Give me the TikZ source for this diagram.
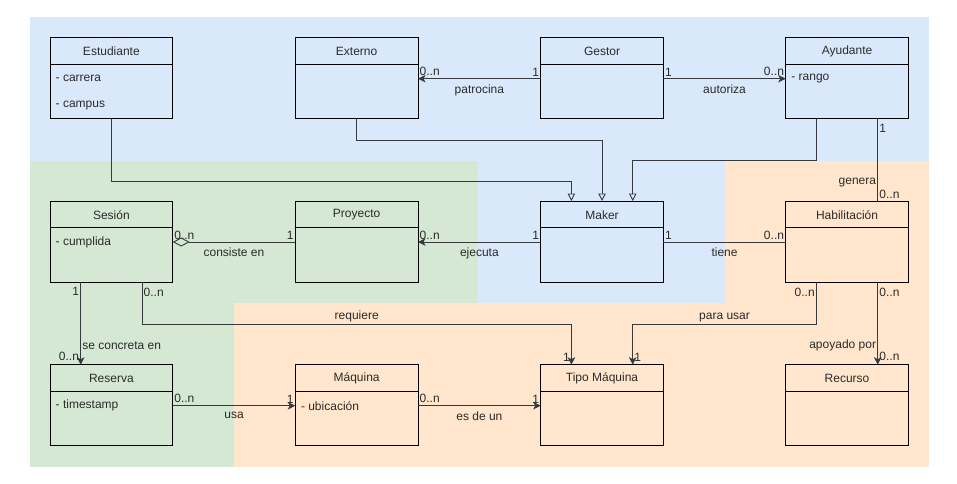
\documentclass[tikz,border=0pt]{standalone}
\usepackage{fontspec}
\setmainfont{Liberation Sans}
\usetikzlibrary{calc,arrows.meta}
\definecolor{bgblue}{HTML}{DAE8FC}
\definecolor{bggreen}{HTML}{D5E8D4}
\definecolor{bgorange}{HTML}{FFE6CC}
\definecolor{ink}{HTML}{2B2B2B}
\definecolor{edge}{HTML}{36393D}
\newcommand\umlclass[4]{%
  \node[cls] (#1) at (#2,#3) {};
  \node[ttl] (#1-t) at ($(#1.north)+(0,14)$) {#4};
  \draw[sepline] ($(#1.north west)+(0,26.7)$) -- ($(#1.north east)+(0,26.7)$);
  \coordinate (#1-a) at ($(#1.north west)+(0,41)$);
  \coordinate (#1-b) at ($(#1.north east)+(0,41)$);
  \coordinate (#1-sa) at ($(#1.south west)!0.25!(#1.south east)$);
  \coordinate (#1-sb) at ($(#1.south west)!0.75!(#1.south east)$);
  \coordinate (#1-na) at ($(#1.north west)!0.25!(#1.north east)$);
  \coordinate (#1-nb) at ($(#1.north west)!0.75!(#1.north east)$);
}
\begin{document}
\begin{tikzpicture}[x=1pt,y=-1pt,
  every node/.style={font=\fontsize{12}{14}\selectfont, text=ink, inner sep=1.5pt},
  cls/.style={draw=black, line width=0.9pt, minimum width=122.7pt, minimum height=81pt,
              inner sep=0pt, outer sep=0pt, anchor=north west},
  ttl/.style={anchor=center},
  attr/.style={anchor=west},
  sepline/.style={draw=black, line width=0.9pt},
  assoc/.style={draw=edge, line width=0.9pt, -{Stealth[length=7.5pt,width=7.5pt,inset=2pt]}},
  plain/.style={draw=edge, line width=0.9pt},
  inh/.style={draw=edge, line width=0.9pt, -{Triangle[open,length=7.5pt,width=7.5pt]}},
  agg/.style={draw=edge, line width=0.9pt, -{Diamond[open,length=17pt,width=9pt]}},
  lbl/.style={inner sep=1.5pt}
]
\useasboundingbox (0,0) rectangle (957,483);
% backgrounds
\fill[bgblue] (30,17) rectangle (929,160.7);
\fill[bgblue] (478,160.7) rectangle (724.7,303.3);
\fill[bggreen] (30,160.7) rectangle (478,303.3);
\fill[bggreen] (30,303.3) rectangle (234,466.7);
\fill[bgorange] (724.7,160.7) rectangle (929,303.3);
\fill[bgorange] (234,303.3) rectangle (929,466.7);

% classes
\umlclass{est}{50}{37.7}{Estudiante}
\umlclass{ext}{295.3}{37.7}{Externo}
\umlclass{ges}{540.7}{37.7}{Gestor}
\umlclass{ayu}{785.7}{37.7}{Ayudante}
\umlclass{ses}{50}{201}{Sesión}
\umlclass{pro}{295.3}{201}{Proyecto}
\umlclass{mak}{540.7}{201}{Maker}
\umlclass{hab}{785.7}{201}{Habilitación}
\umlclass{res}{50}{364.7}{Reserva}
\umlclass{maq}{295.3}{364.7}{Máquina}
\umlclass{tip}{540.7}{364.7}{Tipo Máquina}
\umlclass{rec}{785.7}{364.7}{Recurso}

% attributes
\node[attr] (est-1) at ($(est.north west)+(4,41)$) {- carrera};
\node[attr] (est-2) at ($(est.north west)+(4,67.7)$) {- campus};
\node[attr] (ayu-1) at ($(ayu.north west)+(4,41)$) {- rango};
\node[attr] (ses-1) at ($(ses.north west)+(4,41)$) {- cumplida};
\node[attr] (res-1) at ($(res.north west)+(4,41)$) {- timestamp};
\node[attr] (maq-1) at ($(maq.north west)+(4,41)$) {- ubicación};

% inheritance
\draw[inh] (est.south) -- ++(0,62.3) -| (mak-na);
\draw[inh] (ext.south) -- ++(0,21.3) -| (mak.north);
\draw[inh] (ayu-sa) -- ++(0,42) -| (mak-nb);

% top row associations
\draw[assoc] (ges-a) -- (ext-b);
\node[lbl, anchor=south west] (l1) at ($(ext-b)+(0,-1)$) {0..n};
\node[lbl, anchor=south east] (l2) at ($(ges-a)+(0,-1)$) {1};
\node[lbl, anchor=north] (l3) at ($(ext-b)!0.5!(ges-a)+(0,4.5)$) {patrocina};

\draw[assoc] (ges-b) -- (ayu-a);
\node[lbl, anchor=south west] (l4) at ($(ges-b)+(0,-1)$) {1};
\node[lbl, anchor=south east] (l5) at ($(ayu-a)+(0,-1)$) {0..n};
\node[lbl, anchor=north] (l6) at ($(ges-b)!0.5!(ayu-a)+(0,4.5)$) {autoriza};

% Ayudante - Habilitacion
\draw[plain] (ayu-sb) -- (hab-nb);
\node[lbl, anchor=north west] (l7) at ($(ayu-sb)+(0,4)$) {1};
\node[lbl, anchor=east] (l8) at ($(hab-nb)+(0,-18.5)$) {genera};
\node[lbl, anchor=south west] (l9) at ($(hab-nb)+(0,-1)$) {0..n};

% middle row
\draw[assoc] (mak-a) -- (pro-b);
\node[lbl, anchor=south east] (l10) at ($(mak-a)+(0,-1)$) {1};
\node[lbl, anchor=south west] (l11) at ($(pro-b)+(0,-1)$) {0..n};
\node[lbl, anchor=north] (l12) at ($(pro-b)!0.5!(mak-a)+(0,4.5)$) {ejecuta};

\draw[agg] (pro-a) -- (ses-b);
\node[lbl, anchor=south east] (l13) at ($(pro-a)+(0,-1)$) {1};
\node[lbl, anchor=south west] (l14) at ($(ses-b)+(0,-1)$) {0..n};
\node[lbl, anchor=north] (l15) at ($(ses-b)!0.5!(pro-a)+(0,4.5)$) {consiste en};

\draw[plain] (mak-b) -- (hab-a);
\node[lbl, anchor=south west] (l16) at ($(mak-b)+(0,-1)$) {1};
\node[lbl, anchor=south east] (l17) at ($(hab-a)+(0,-1)$) {0..n};
\node[lbl, anchor=north] (l18) at ($(mak-b)!0.5!(hab-a)+(0,4.5)$) {tiene};

% Sesion -> Reserva
\draw[assoc] (ses-sa) -- (res-na);
\node[lbl, anchor=north east] (l19) at ($(ses-sa)+(0,4)$) {1};
\node[lbl, anchor=west] (l20) at ($(res-na)+(0,-19)$) {se concreta en};
\node[lbl, anchor=south east] (l21) at ($(res-na)+(0,-2)$) {0..n};

% Sesion -> Tipo Maquina
\draw[assoc] (ses-sb) -- ++(0,42) -| (tip-na);
\node[lbl, anchor=north west] (l22) at ($(ses-sb)+(0,4)$) {0..n};
\node[lbl, anchor=south] (l23) at ($(ses-sb)!0.5!(tip-na)+(0,0.5)$) {requiere};
\node[lbl, anchor=south east] (l24) at ($(tip-na)+(0,-2)$) {1};

% Habilitacion -> Tipo Maquina
\draw[assoc] (hab-sa) -- ++(0,42) -| (tip-nb);
\node[lbl, anchor=north east] (l25) at ($(hab-sa)+(0,4)$) {0..n};
\node[lbl, anchor=south] (l26) at ($(hab-sa)!0.5!(tip-nb)+(0,0.5)$) {para usar};
\node[lbl, anchor=south west] (l27) at ($(tip-nb)+(0,-2)$) {1};

% Habilitacion -> Recurso
\draw[assoc] (hab-sb) -- (rec-nb);
\node[lbl, anchor=north west] (l28) at ($(hab-sb)+(0,4)$) {0..n};
\node[lbl, anchor=east] (l29) at ($(rec-nb)+(0,-19)$) {apoyado por};
\node[lbl, anchor=south west] (l30) at ($(rec-nb)+(0,-2)$) {0..n};

% bottom row
\draw[assoc] (res-b) -- (maq-a);
\node[lbl, anchor=south west] (l31) at ($(res-b)+(0,-1)$) {0..n};
\node[lbl, anchor=south east] (l32) at ($(maq-a)+(0,-1)$) {1};
\node[lbl, anchor=north] (l33) at ($(res-b)!0.5!(maq-a)+(0,4.5)$) {usa};

\draw[assoc] (maq-b) -- (tip-a);
\node[lbl, anchor=south west] (l34) at ($(maq-b)+(0,-1)$) {0..n};
\node[lbl, anchor=south east] (l35) at ($(tip-a)+(0,-1)$) {1};
\node[lbl, anchor=north] (l36) at ($(maq-b)!0.5!(tip-a)+(0,4.5)$) {es de un};
\end{tikzpicture}
\end{document}
